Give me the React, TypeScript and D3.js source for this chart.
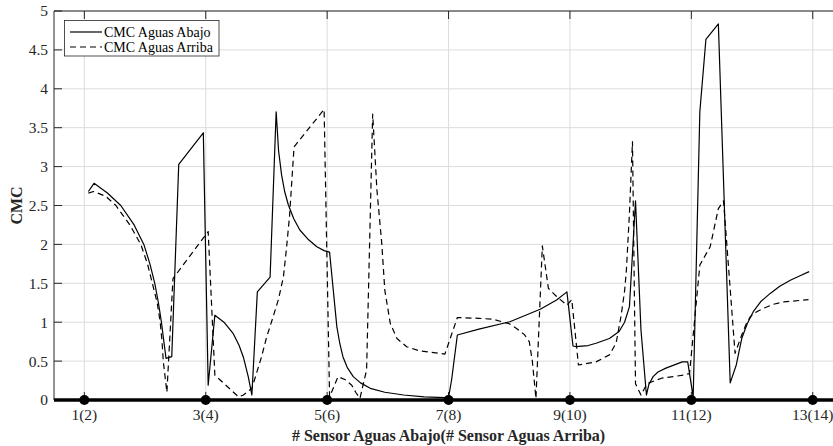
import React from "react";
import * as d3 from "d3";

const xTicks = [1, 3, 5, 7, 9, 11, 13];
const xTickLabels = ["1(2)", "3(4)", "5(6)", "7(8)", "9(10)", "11(12)", "13(14)"];
const yTicks = [0, 0.5, 1, 1.5, 2, 2.5, 3, 3.5, 4, 4.5, 5];
const yTickLabels = ["0", "0.5", "1", "1.5", "2", "2.5", "3", "3.5", "4", "4.5", "5"];
const seriesNames = ["CMC Aguas Abajo", "CMC Aguas Arriba"];
const sensorMarkers = [1, 3, 5, 7, 9, 11, 13];

const abajo: [number, number][] = [
  [1.066, 2.68], [1.16, 2.785], [1.38, 2.66], [1.6, 2.5], [1.82, 2.25], [1.98, 2.0], [2.08, 1.75],
  [2.16, 1.5], [2.22, 1.25], [2.27, 1.0], [2.31, 0.75], [2.345, 0.536], [2.44, 0.557], [2.555, 3.03],
  [2.96, 3.435], [3.04, 0.19], [3.15, 1.09], [3.3, 1.0], [3.45, 0.857], [3.55, 0.7], [3.62, 0.55],
  [3.7, 0.3], [3.76, 0.064], [3.85, 1.39], [4.06, 1.58], [4.16, 3.705], [4.2, 3.2], [4.25, 2.89],
  [4.3, 2.68], [4.36, 2.51], [4.45, 2.33], [4.55, 2.185], [4.68, 2.07], [4.83, 1.97], [4.95, 1.92],
  [5.04, 1.9], [5.16, 0.94], [5.21, 0.72], [5.26, 0.557], [5.33, 0.42], [5.43, 0.3], [5.55, 0.22],
  [5.71, 0.15], [5.95, 0.1], [6.26, 0.064], [6.6, 0.04], [6.94, 0.03], [7.0, 0.03], [7.05, 0.257],
  [7.145, 0.835], [7.5, 0.91], [8.01, 1.006], [8.51, 1.166], [8.78, 1.285], [8.95, 1.39], [9.05, 0.694],
  [9.1, 0.685], [9.3, 0.7], [9.43, 0.73], [9.65, 0.79], [9.81, 0.88], [9.9, 1.0], [9.98, 1.2],
  [10.08, 2.56], [10.17, 0.9], [10.26, 0.064], [10.3, 0.2], [10.37, 0.3], [10.45, 0.36], [10.58, 0.41],
  [10.85, 0.49], [10.94, 0.49], [11.03, 0.04], [11.14, 3.705], [11.24, 4.636], [11.445, 4.833],
  [11.64, 0.22], [11.74, 0.45], [11.83, 0.79], [11.92, 0.98], [12.02, 1.135], [12.15, 1.27],
  [12.3, 1.37], [12.45, 1.46], [12.63, 1.54], [12.8, 1.6], [12.94, 1.65],
];

const arriba: [number, number][] = [
  [1.066, 2.66], [1.15, 2.68], [1.35, 2.62], [1.52, 2.5], [1.75, 2.25], [1.93, 2.0], [2.04, 1.75],
  [2.12, 1.5], [2.2, 1.25], [2.25, 1.0], [2.28, 0.75], [2.3, 0.5], [2.36, 0.1], [2.46, 1.56],
  [3.04, 2.165], [3.15, 0.32], [3.54, 0.04], [3.62, 0.064], [3.76, 0.15], [3.92, 0.557], [4.0, 0.8],
  [4.11, 1.07], [4.2, 1.3], [4.28, 1.585], [4.33, 1.95], [4.38, 2.36], [4.455, 3.255], [4.95, 3.735],
  [5.04, 0.04], [5.18, 0.3], [5.3, 0.26], [5.405, 0.19], [5.47, 0.1], [5.54, 0.02], [5.65, 0.386],
  [5.75, 3.676], [5.82, 2.7], [5.9, 2.01], [5.95, 1.41], [6.04, 0.985], [6.15, 0.79], [6.31, 0.685],
  [6.53, 0.63], [6.94, 0.59], [7.145, 1.06], [7.5, 1.05], [7.74, 1.037], [8.0, 0.98], [8.12, 0.92],
  [8.25, 0.84], [8.33, 0.75], [8.38, 0.5], [8.44, 0.02], [8.545, 1.98], [8.645, 1.435], [8.78, 1.33],
  [8.95, 1.22], [9.03, 1.29], [9.14, 0.45], [9.43, 0.49], [9.65, 0.58], [9.76, 0.73], [9.84, 1.07],
  [9.9, 1.4], [9.93, 1.67], [9.98, 2.4], [10.03, 3.32], [10.08, 0.21], [10.17, 0.064], [10.27, 0.21],
  [10.51, 0.28], [10.87, 0.32], [10.97, 0.34], [11.14, 1.735], [11.31, 1.97], [11.445, 2.46],
  [11.53, 2.56], [11.72, 0.6], [11.83, 0.835], [11.9, 0.97], [11.97, 1.07], [12.07, 1.13],
  [12.19, 1.18], [12.35, 1.23], [12.52, 1.26], [12.93, 1.29],
];

const W = 833;
const H = 446;
const left = 54;
const top = 11;
const bottom = 400;
const font = "'Liberation Serif', 'Times New Roman', serif";

export default function App() {
  const x = d3.scaleLinear().domain([0.5, 13.5]).range([left, left + 13 * 60.7]);
  const y = d3.scaleLinear().domain([0, 5]).range([bottom, top]);
  const line = d3
    .line<[number, number]>()
    .x((d) => x(d[0]))
    .y((d) => y(d[1]));
  const right = x(13.5);
  const axisColor = "#262626";
  const gridColor = "#dcdcdc";

  return (
    <svg
      width={W}
      height={H}
      style={{ position: "absolute", left: 0, top: 0, background: "#fff" }}
      fontFamily={font}
    >
      <rect x={0} y={0} width={W} height={H} fill="#fff" />
      {yTicks.map((t) => (
        <line key={"gy" + t} x1={left} x2={right} y1={y(t)} y2={y(t)} stroke={gridColor} strokeWidth={1} />
      ))}
      {xTicks.map((t) => (
        <line key={"gx" + t} x1={x(t)} x2={x(t)} y1={top} y2={bottom} stroke={gridColor} strokeWidth={1} />
      ))}
      <line x1={left} x2={right} y1={top} y2={top} stroke={axisColor} strokeWidth={1} />
      <line x1={left} x2={left} y1={top} y2={bottom} stroke={axisColor} strokeWidth={1} />
      <line x1={left} x2={right} y1={bottom} y2={bottom} stroke={axisColor} strokeWidth={1} />
      {yTicks.map((t) => (
        <line key={"ty" + t} x1={left} x2={left + 8} y1={y(t)} y2={y(t)} stroke={axisColor} strokeWidth={1} />
      ))}
      {xTicks.map((t) => (
        <g key={"tx" + t}>
          <line x1={x(t)} x2={x(t)} y1={top} y2={top + 8} stroke={axisColor} strokeWidth={1} />
          <line x1={x(t)} x2={x(t)} y1={bottom} y2={bottom - 8} stroke={axisColor} strokeWidth={1} />
        </g>
      ))}
      <path d={line(abajo) || ""} fill="none" stroke="#000" strokeWidth={1.2} strokeLinejoin="round" />
      <path d={line(arriba) || ""} fill="none" stroke="#000" strokeWidth={1.2} strokeDasharray="6,4" strokeLinejoin="round" />
      <line x1={left} x2={right} y1={y(0)} y2={y(0)} stroke="#000" strokeWidth={3.5} />
      {sensorMarkers.map((s) => (
        <circle key={"m" + s} cx={x(s)} cy={y(0)} r={5} fill="#000" />
      ))}
      {yTicks.map((t, i) => (
        <text key={"ly" + t} x={left - 6} y={y(t)} dy="0.35em" textAnchor="end" fontSize={15.5} fill="#262626">
          {yTickLabels[i]}
        </text>
      ))}
      {xTicks.map((t, i) => (
        <text key={"lx" + t} x={x(t)} y={420} textAnchor="middle" fontSize={15.5} fill="#262626">
          {xTickLabels[i]}
        </text>
      ))}
      <text x={(left + right) / 2} y={441} textAnchor="middle" fontSize={16} fontWeight="bold" fill="#262626">
        # Sensor Aguas Abajo(# Sensor Aguas Arriba)
      </text>
      <text
        transform={`translate(22, ${(top + bottom) / 2}) rotate(-90)`}
        textAnchor="middle"
        fontSize={16}
        fontWeight="bold"
        fill="#262626"
      >
        CMC
      </text>
      <rect x={64.5} y={20.5} width={154.5} height={35.5} fill="#fff" stroke="#262626" strokeWidth={0.8} />
      <line x1={70} x2={102} y1={32} y2={32} stroke="#000" strokeWidth={1.2} />
      <line x1={70} x2={102} y1={47} y2={47} stroke="#000" strokeWidth={1.2} strokeDasharray="6,4" />
      <text x={104} y={32} dy="0.33em" fontSize={14} fill="#000">
        {seriesNames[0]}
      </text>
      <text x={104} y={47} dy="0.33em" fontSize={14} fill="#000">
        {seriesNames[1]}
      </text>
    </svg>
  );
}
